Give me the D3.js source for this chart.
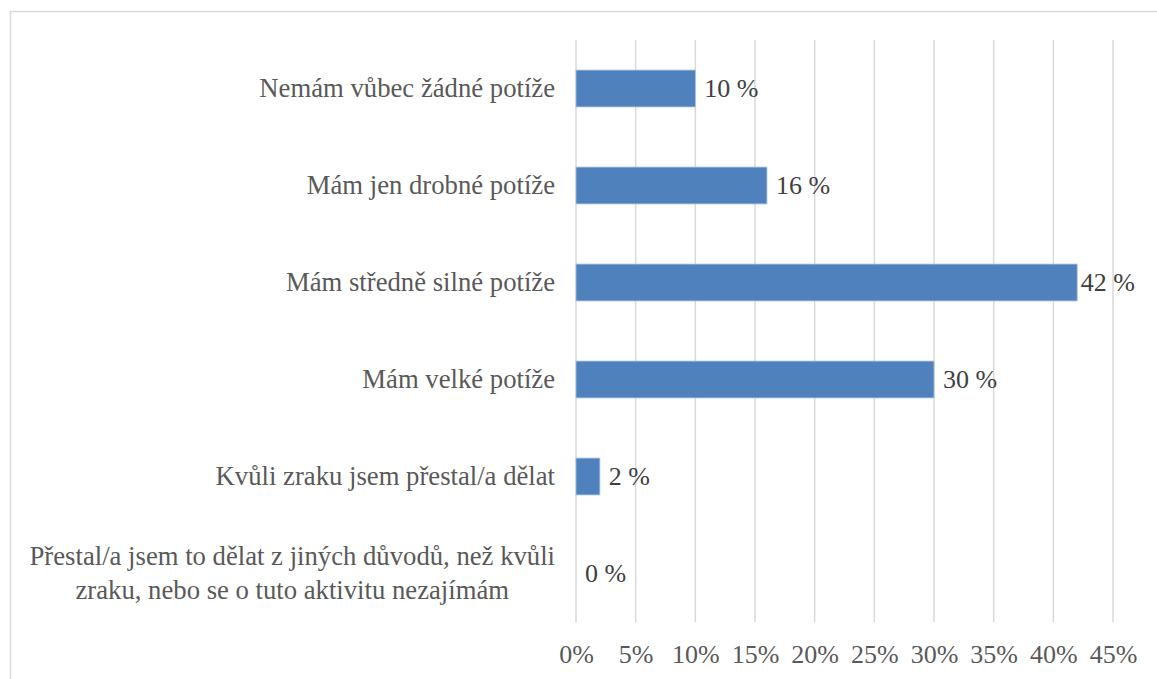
<!DOCTYPE html>
<html>
<head>
<meta charset="utf-8">
<script src="https://cdn.jsdelivr.net/npm/d3@7"></script>
<style>
  html, body { margin: 0; padding: 0; background: #fff; }
  svg { display: block; }
</style>
</head>
<body>
<svg id="chart" width="1157" height="679"></svg>
<script>
// Answer categories, top to bottom (array items = text lines of the label)
const categories = [
  ["Nemám vůbec žádné potíže"],
  ["Mám jen drobné potíže"],
  ["Mám středně silné potíže"],
  ["Mám velké potíže"],
  ["Kvůli zraku jsem přestal/a dělat"],
  ["Přestal/a jsem to dělat z jiných důvodů, než kvůli", "zraku, nebo se o tuto aktivitu nezajímám"]
];
// Share of respondents, in percent
const values = [10, 16, 42, 30, 2, 0];
// Axis ticks, in percent
const tickValues = [0, 5, 10, 15, 20, 25, 30, 35, 40, 45];

const W = 1157, H = 679;
const plot = { left: 576, right: 1113, top: 40, bottom: 622 };
const FONT = '"Liberation Serif"';

// Apply the chart's text style to a selection of <text> elements
function textStyle(sel, color, size = 26) {
  sel.style("font-family", FONT)
     .style("font-size", size + "px")
     .style("fill", color);
}

const svg = d3.select("#chart");

// Outer chart frame (right and bottom edges fall outside the canvas)
svg.append("rect")
  .attr("x", 10.5).attr("y", 11.5)
  .attr("width", W + 10).attr("height", H + 10)
  .attr("fill", "#fff")
  .attr("stroke", "#d9d9d9")
  .attr("stroke-width", 1.5);

const x = d3.scaleLinear().domain([0, 45]).range([plot.left, plot.right]);
const y = d3.scaleBand()
  .domain(d3.range(categories.length))
  .range([plot.top, plot.bottom])
  .paddingInner(0.62)
  .paddingOuter(0.31);

// Vertical gridlines
svg.append("g")
  .selectAll("line")
  .data(tickValues)
  .join("line")
  .attr("x1", d => x(d)).attr("x2", d => x(d))
  .attr("y1", plot.top).attr("y2", plot.bottom)
  .attr("stroke", "#d9d9d9")
  .attr("stroke-width", 1.5);

// Bars
svg.append("g")
  .selectAll("rect")
  .data(values)
  .join("rect")
  .attr("x", x(0))
  .attr("y", (d, i) => y(i))
  .attr("width", d => x(d) - x(0))
  .attr("height", y.bandwidth())
  .attr("fill", "#4f81bd")
  .attr("stroke", d => d > 0 ? "#a7c0e0" : "none")
  .attr("stroke-width", 0.8);

// Value labels at the bar ends, kept inside the frame
svg.append("g")
  .selectAll("text")
  .data(values)
  .join("text")
  .call(textStyle, "#404040")
  .attr("y", (d, i) => y(i) + y.bandwidth() / 2)
  .attr("dy", "0.33em")
  .text(d => `${d} %`)
  .each(function (d) {
    const w = this.getComputedTextLength();
    const pos = Math.min(x(d) + 9, W - 22 - w);
    d3.select(this).attr("x", Math.max(pos, x(d) + 3));
  });

// Category labels: lines centred on one another, block right-aligned
const catG = svg.append("g");
const lineH = 34;
const rightEdge = 555;
categories.forEach((lines, i) => {
  const cy = y(i) + y.bandwidth() / 2;
  const t = catG.append("text")
    .call(textStyle, "#595959", 26.7)
    .attr("text-anchor", "middle");
  const spans = lines.map((ln, k) =>
    t.append("tspan")
      .attr("y", cy + (k - (lines.length - 1) / 2) * lineH)
      .attr("dy", "0.32em")
      .text(ln)
  );
  const maxW = d3.max(spans, s => s.node().getComputedTextLength());
  spans.forEach(s => s.attr("x", rightEdge - maxW / 2));
});

// X axis tick labels
const axis = d3.axisBottom(x)
  .tickValues(tickValues)
  .tickFormat(d => d + "%")
  .tickSize(0)
  .tickPadding(0);
const ax = svg.append("g")
  .attr("transform", `translate(0, ${plot.bottom})`)
  .call(axis);
ax.select(".domain").remove();
ax.selectAll("text")
  .call(textStyle, "#595959")
  .attr("y", 41)
  .attr("dy", 0);
</script>
</body>
</html>
